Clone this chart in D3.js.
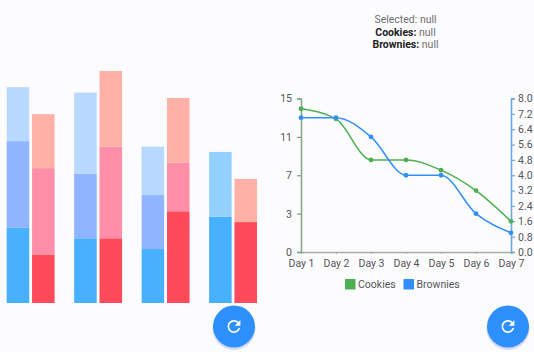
<!DOCTYPE html>
<html>
<head>
<meta charset="utf-8">
<script src="https://cdn.jsdelivr.net/npm/d3@7"></script>
<style>
  html, body { margin: 0; padding: 0; background: #fcfcff; overflow: hidden; }
  text { font-family: Roboto, sans-serif; }
</style>
</head>
<body>
<svg id="chart" width="534" height="352"></svg>
<script>
// left chart: one blue and one red stack per group, bottom segment first
const groups = ["a", "b", "c", "d"];
const blueStacks = [[28, 32, 20], [24, 24, 30], [20, 20, 18], [32, 24]];
const redStacks = [[18, 32, 20], [24, 34, 28], [34, 18, 24], [30, 16]];
const blueColors = ["#47b0ff", "#90b4ff", "#b8d8ff"];
const blueColorsLast = ["#47b0ff", "#93d2ff"];
const redColors = ["#ff4a59", "#ff8ea9", "#ffb1a8"];
const redColorsLast = ["#ff4a59", "#ffb1a8"];

// right chart
const days = ["Day 1", "Day 2", "Day 3", "Day 4", "Day 5", "Day 6", "Day 7"];
const cookies = [14, 13, 9, 9, 8, 6, 3];
const brownies = [7, 7, 6, 4, 4, 2, 1];
const leftTicks = [0, 3.75, 7.5, 11.25, 15];
const rightTicks = [0, 0.8, 1.6, 2.4, 3.2, 4.0, 4.8, 5.6, 6.4, 7.2, 8.0];
const legendNames = ["Cookies", "Brownies"];

const green = "#4caf50";
const blue = "#2f8ffb";
const refreshIcon = "M17.65 6.35C16.2 4.9 14.21 4 12 4c-4.42 0-7.99 3.58-7.99 8s3.57 8 7.99 8c3.73 0 6.84-2.55 7.73-6h-2.08c-.82 2.33-3.04 4-5.65 4-3.31 0-6-2.69-6-6s2.69-6 6-6c1.66 0 3.14.69 4.22 1.78L13 11h7V4l-2.35 2.35z";
const svg = d3.select("#chart");

function drawBars() {
  const x0 = d3.scaleBand().domain(groups).range([6.7, 257]).paddingInner(0.29).paddingOuter(0);
  const x1 = d3.scaleBand().domain(["blue", "red"]).range([0, x0.bandwidth()]).paddingInner(0.11);
  const y = d3.scaleLinear().domain([0, 86]).range([303, 71]);

  groups.forEach((g, i) => {
    const pairs = [
      ["blue", blueStacks[i], i === 3 ? blueColorsLast : blueColors],
      ["red", redStacks[i], i === 3 ? redColorsLast : redColors]
    ];
    pairs.forEach(([key, vals, cols]) => {
      let base = 0;
      vals.forEach((v, j) => {
        svg.append("rect")
          .attr("x", x0(g) + x1(key))
          .attr("width", x1.bandwidth())
          .attr("y", y(base + v))
          .attr("height", y(base) - y(base + v))
          .attr("fill", cols[j]);
        base += v;
      });
    });
  });
}

function drawLines() {
  const x = d3.scalePoint().domain(days).range([301, 511]);
  const yLeft = d3.scaleLinear().domain([0, 15]).range([252, 98.5]);
  const yRight = d3.scaleLinear().domain([0, 8]).range([252, 98.5]);

  // bottom axis
  const xAxis = svg.append("g")
    .attr("transform", "translate(0,252)")
    .call(d3.axisBottom(x).tickSizeOuter(0).tickSize(2).tickPadding(6));
  xAxis.select(".domain").attr("stroke", "#a9aba6").attr("stroke-width", 1.6);
  xAxis.selectAll(".tick line").attr("stroke", "#a9aba6").attr("stroke-width", 1.2);
  xAxis.selectAll("text").attr("font-size", 10.5).attr("fill", "#555");

  // left axis, labels cut to whole numbers like the original
  const lAxis = svg.append("g")
    .attr("transform", "translate(301,0)")
    .call(d3.axisLeft(yLeft).tickValues(leftTicks).tickFormat(d => Math.floor(d)).tickSizeOuter(0).tickSize(4).tickPadding(5));
  lAxis.select(".domain").attr("stroke", "#86a98a").attr("stroke-width", 1.6);
  lAxis.selectAll(".tick line").attr("stroke", "#6fa873").attr("stroke-width", 1.2);
  lAxis.selectAll("text").attr("font-size", 10.5).attr("fill", "#555");

  const rAxis = svg.append("g")
    .attr("transform", "translate(511,0)")
    .call(d3.axisRight(yRight).tickValues(rightTicks).tickFormat(d3.format(".1f")).tickSizeOuter(0).tickSize(4).tickPadding(3));
  rAxis.select(".domain").attr("stroke", "#6ba6dc").attr("stroke-width", 1.6);
  rAxis.selectAll(".tick line").attr("stroke", "#6ba6dc").attr("stroke-width", 1.2);
  rAxis.selectAll("text").attr("font-size", 10.5).attr("fill", "#555");

  const series = [[cookies, yLeft, green], [brownies, yRight, blue]];
  series.forEach(([vals, scale, color]) => {
    const line = d3.line()
      .x((d, i) => x(days[i]))
      .y(d => scale(d))
      .curve(d3.curveMonotoneX);
    svg.append("path")
      .datum(vals)
      .attr("d", line)
      .attr("fill", "none")
      .attr("stroke", color)
      .attr("stroke-width", 1.5);
    svg.selectAll(null)
      .data(vals)
      .join("circle")
      .attr("cx", (d, i) => x(days[i]))
      .attr("cy", d => scale(d))
      .attr("r", 2.4)
      .attr("fill", color);
  });

  // legend
  const legendX = [345, 403.5];
  legendNames.forEach((name, i) => {
    svg.append("rect")
      .attr("x", legendX[i]).attr("y", 279)
      .attr("width", 10.5).attr("height", 10.5)
      .attr("fill", i === 0 ? green : blue);
    svg.append("text")
      .attr("x", legendX[i] + 13).attr("y", 288)
      .attr("font-size", 10.5).attr("fill", "#555")
      .text(name);
  });
}

function drawHeader() {
  const lines = [["", "Selected: null", 23], ["Cookies:", " null", 35.5], ["Brownies:", " null", 47.5]];
  lines.forEach(([bold, rest, yy]) => {
    const t = svg.append("text")
      .attr("x", 405.5).attr("y", yy)
      .attr("text-anchor", "middle")
      .attr("font-size", 10.5)
      .attr("fill", "#6f6f6f");
    if (bold) t.append("tspan").attr("font-weight", 700).attr("fill", "#222").text(bold);
    t.append("tspan").text(rest);
  });
}

function drawFab(cx, cy) {
  svg.append("circle").attr("cx", cx).attr("cy", cy + 2).attr("r", 21.5).attr("fill", "#c9cdf0").attr("opacity", 0.75);
  svg.append("circle").attr("cx", cx).attr("cy", cy).attr("r", 21).attr("fill", "#2d90fc");
  svg.append("path")
    .attr("d", refreshIcon)
    .attr("transform", `translate(${cx - 9.6},${cy - 9.6}) scale(0.8)`)
    .attr("fill", "#fff");
}

drawBars();
drawLines();
drawHeader();
drawFab(234, 326.5);
drawFab(508, 326.5);
</script>
</body>
</html>
